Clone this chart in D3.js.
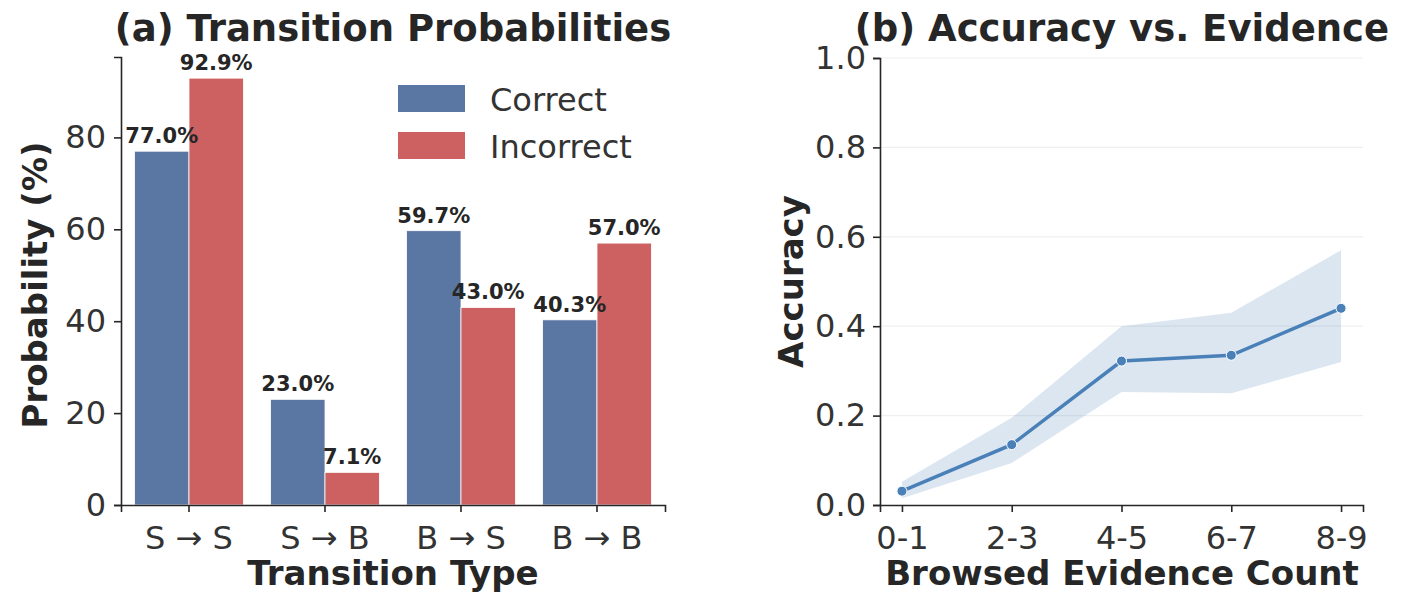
<!DOCTYPE html>
<html>
<head>
<meta charset="utf-8">
<script src="https://cdn.jsdelivr.net/npm/d3@7"></script>
<style>
  body { margin: 0; background: #fff; }
  text { font-family: "DejaVu Sans", sans-serif; fill: #262626; }
  .tick text { font-size: 32px; fill: #333; }
  .domain, .tick line { stroke: #262626; stroke-width: 1.6; }
</style>
</head>
<body>
<script>
// (a) transition probabilities
const transitions = ['S \u2192 S', 'S \u2192 B', 'B \u2192 S', 'B \u2192 B'];
const groups = ['Correct', 'Incorrect'];
const correctPct = [77.0, 23.0, 59.7, 40.3];
const incorrectPct = [92.9, 7.1, 43.0, 57.0];
const barColors = ['#5a77a3', '#cd6060'];

// (b) accuracy vs evidence
const evidenceBins = ['0-1', '2-3', '4-5', '6-7', '8-9'];
const accuracy = [0.031, 0.135, 0.322, 0.335, 0.44];
const accLow = [0.015, 0.094, 0.253, 0.25, 0.32];
const accHigh = [0.052, 0.195, 0.40, 0.43, 0.57];
const yTicksB = [0, 0.2, 0.4, 0.6, 0.8, 1.0];

const svg = d3.select('body').append('svg')
  .attr('width', 1404).attr('height', 594);

// ---- panel a ----
const a = { left: 121, right: 665, top: 57, bottom: 505 };
const xa = d3.scaleBand().domain(transitions).range([a.left, a.right]);
const xInner = d3.scaleBand().domain(groups).range([0, xa.bandwidth()]).paddingOuter(0.25);
const ya = d3.scaleLinear().domain([0, 97.5]).range([a.bottom, a.top]);

const rows = transitions.map((t, i) => ({ t, vals: [correctPct[i], incorrectPct[i]] }));

const gA = svg.append('g');
const cat = gA.selectAll('g.cat').data(rows).enter().append('g')
  .attr('transform', d => `translate(${xa(d.t)},0)`);

cat.selectAll('rect').data(d => d.vals.map((v, j) => ({ v, g: groups[j], j })))
  .enter().append('rect')
  .attr('x', d => xInner(d.g))
  .attr('width', xInner.bandwidth())
  .attr('y', d => ya(d.v))
  .attr('height', d => ya(0) - ya(d.v))
  .attr('fill', d => barColors[d.j])
  .attr('stroke', '#fff').attr('stroke-width', 0.8);

cat.selectAll('text.val').data(d => d.vals.map((v, j) => ({ v, g: groups[j] })))
  .enter().append('text')
  .attr('x', d => xInner(d.g) + xInner.bandwidth() / 2)
  .attr('y', d => ya(d.v) - 8)
  .attr('text-anchor', 'middle')
  .style('font-size', '21px').style('font-weight', 'bold')
  .text(d => d.v.toFixed(1) + '%');

gA.append('g').attr('transform', `translate(${a.left},0)`)
  .call(d3.axisLeft(ya).tickValues([0, 20, 40, 60, 80]).tickSize(7).tickPadding(8));
gA.append('g').attr('transform', `translate(0,${a.bottom})`)
  .call(d3.axisBottom(xa).tickSize(7).tickPadding(14));

// legend
const leg = gA.append('g');
groups.forEach((g, i) => {
  leg.append('rect').attr('x', 398).attr('y', 85 + i * 47).attr('width', 67).attr('height', 27)
    .attr('fill', barColors[i]);
  leg.append('text').attr('x', 490).attr('y', 111 + i * 47)
    .style('font-size', '32px').style('fill', '#333').text(g);
});

gA.append('text').attr('x', 393).attr('y', 41).attr('text-anchor', 'middle')
  .style('font-size', '37px').style('font-weight', 'bold').text('(a) Transition Probabilities');
gA.append('text').attr('x', 393).attr('y', 585).attr('text-anchor', 'middle')
  .style('font-size', '34px').style('font-weight', 'bold').text('Transition Type');
gA.append('text').attr('transform', `translate(47,${(a.top + a.bottom) / 2 + 4}) rotate(-90)`)
  .attr('text-anchor', 'middle')
  .style('font-size', '34px').style('font-weight', 'bold').text('Probability (%)');

// ---- panel b ----
const b = { left: 880, right: 1363, top: 58, bottom: 505 };
const xb = d3.scaleLinear().domain([-0.2, 4.2]).range([b.left, b.right]);
const yb = d3.scaleLinear().domain([0, 1]).range([b.bottom, b.top]);
const gB = svg.append('g');

gB.selectAll('line.grid').data(yTicksB.slice(1)).enter().append('line')
  .attr('x1', b.left).attr('x2', b.right)
  .attr('y1', d => yb(d)).attr('y2', d => yb(d))
  .attr('stroke', '#efefef').attr('stroke-width', 1.2);

const pts = evidenceBins.map((e, i) => ({ i, v: accuracy[i], lo: accLow[i], hi: accHigh[i] }));

gB.append('path').datum(pts)
  .attr('d', d3.area().x(d => xb(d.i)).y0(d => yb(d.lo)).y1(d => yb(d.hi)))
  .attr('fill', '#4a80b8').attr('fill-opacity', 0.2);
gB.append('path').datum(pts)
  .attr('d', d3.line().x(d => xb(d.i)).y(d => yb(d.v)))
  .attr('fill', 'none').attr('stroke', '#4a80b8').attr('stroke-width', 3.5);
gB.selectAll('circle').data(pts).enter().append('circle')
  .attr('cx', d => xb(d.i)).attr('cy', d => yb(d.v)).attr('r', 5)
  .attr('fill', '#4a80b8').attr('stroke', '#fff').attr('stroke-width', 1);

gB.append('g').attr('transform', `translate(${b.left},0)`)
  .call(d3.axisLeft(yb).tickValues(yTicksB).tickFormat(d3.format('.1f')).tickSize(7).tickPadding(7));
gB.append('g').attr('transform', `translate(0,${b.bottom})`)
  .call(d3.axisBottom(xb).tickValues(d3.range(evidenceBins.length))
    .tickFormat(i => evidenceBins[i]).tickSize(7).tickPadding(14));

gB.append('text').attr('x', 1122).attr('y', 41).attr('text-anchor', 'middle')
  .style('font-size', '37px').style('font-weight', 'bold').text('(b) Accuracy vs. Evidence');
gB.append('text').attr('x', 1122).attr('y', 585).attr('text-anchor', 'middle')
  .style('font-size', '34px').style('font-weight', 'bold').text('Browsed Evidence Count');
gB.append('text').attr('transform', `translate(803,${(b.top + b.bottom) / 2}) rotate(-90)`)
  .attr('text-anchor', 'middle')
  .style('font-size', '34px').style('font-weight', 'bold').text('Accuracy');
</script>
</body>
</html>
